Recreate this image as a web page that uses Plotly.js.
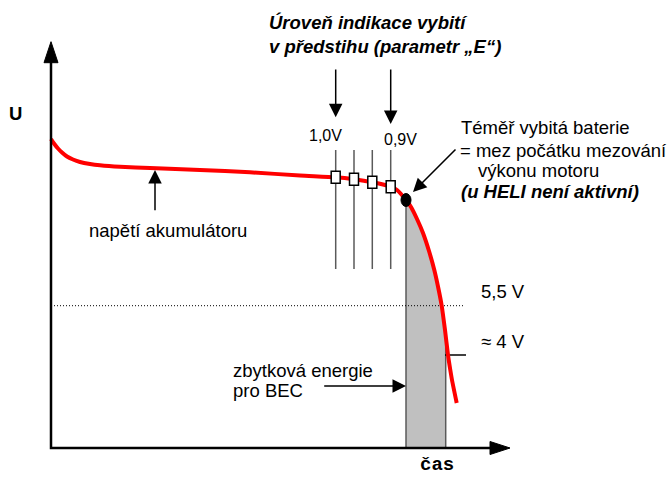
<!DOCTYPE html>
<html>
<head>
<meta charset="utf-8">
<script src="https://cdn.plot.ly/plotly-3.0.1.min.js"></script>
<style>html,body{margin:0;padding:0;background:#fff;}#chart{width:669px;height:477px;}</style>
</head>
<body>
<div id="chart"></div>
<script>
// ---- data (arbitrary schematic units: time to the right, voltage U upward) ----
const timeAxisEnd = 459;
const voltAxisEnd = 406.3;

const curveTime = [0, 3, 7, 11, 16, 22, 29, 39, 49, 69, 99, 149, 199, 249, 284.7, 303, 321.3, 339.7, 346, 355, 360, 366, 372, 378, 383.3, 387.3, 390.7, 394, 397, 399.3, 401, 405.7];
const curveU    = [309, 304.5, 299.5, 295.5, 291.5, 288.5, 286, 284, 282.7, 281.2, 280, 278, 275.7, 272.5, 270.7, 268.7, 265.7, 261.3, 258, 248, 241, 229, 215, 197, 178, 160, 142.3, 118, 93, 78, 68, 45];

// discharge-indication levels (parametr E)
const levelTime = [284.7, 303, 321.3, 339.7];
const levelU    = [270.7, 268.7, 265.7, 261.3];
const levelLineU = [179, 298];
const levelLabels = ["1,0V", "0,9V"];

// nearly discharged battery point and BEC reserve
const cutoffTime = 355, cutoffU = 248;
const becEndTime = 394.7;
const thresholdU55 = 142.3;   // 5,5 V
const thresholdU4 = 93;       // ≈ 4 V

// ---- helpers ----
function interpU(t) {
  for (let i = 0; i < curveTime.length - 1; i++) {
    if (t >= curveTime[i] && t <= curveTime[i + 1]) {
      const f = (t - curveTime[i]) / (curveTime[i + 1] - curveTime[i]);
      return curveU[i] + f * (curveU[i + 1] - curveU[i]);
    }
  }
  return curveU[curveU.length - 1];
}

// grey area polygon built from the curve
const becEndU = interpU(becEndTime);
const fillX = [cutoffTime, cutoffTime], fillY = [0, cutoffU];
curveTime.forEach((t, i) => { if (t > cutoffTime && t < becEndTime) { fillX.push(t); fillY.push(curveU[i]); } });
fillX.push(becEndTime, becEndTime); fillY.push(becEndU, 0);

const FONT = "Liberation Sans, Arial, sans-serif";
const grey = "#5a5a5a";

const traces = [
  { x: fillX, y: fillY, mode: "lines", fill: "toself", fillcolor: "#c0c0c0", line: { width: 0 }, hoverinfo: "skip" },
  { x: [cutoffTime, cutoffTime], y: [0, cutoffU], mode: "lines", line: { color: grey, width: 1.5 } },
  { x: [becEndTime, becEndTime], y: [0, becEndU], mode: "lines", line: { color: grey, width: 1.5 } },
  { x: [0, 414], y: [thresholdU55, thresholdU55], mode: "lines", line: { color: "#000", width: 1, dash: "1px,2px" } },
  { x: [394, 415], y: [thresholdU4, thresholdU4], mode: "lines", line: { color: "#000", width: 1.5 } }
];
levelTime.forEach(t => traces.push({ x: [t, t], y: levelLineU, mode: "lines", line: { color: grey, width: 1.5 } }));
traces.push({ x: curveTime, y: curveU, mode: "lines", line: { color: "#ff0000", width: 4, shape: "spline", smoothing: 0.6 } });
// axes
traces.push({ x: [0, 0, timeAxisEnd - 15], y: [voltAxisEnd - 15, 0, 0], mode: "lines", line: { color: "#000", width: 2.5 } });
traces.push({ x: [-7, 7, 0, -7], y: [voltAxisEnd - 21, voltAxisEnd - 21, voltAxisEnd, voltAxisEnd - 21], mode: "lines", fill: "toself", fillcolor: "#000", line: { color: "#000", width: 1 } });
traces.push({ x: [timeAxisEnd - 20, timeAxisEnd - 20, timeAxisEnd, timeAxisEnd - 20], y: [6.5, -6.5, 0, 6.5], mode: "lines", fill: "toself", fillcolor: "#000", line: { color: "#000", width: 1 } });

const shapes = levelTime.map((t, i) => ({
  type: "rect", xref: "x", yref: "y", xsizemode: "pixel", ysizemode: "pixel",
  xanchor: t, yanchor: levelU[i], x0: -4.5, x1: 4.5, y0: -6, y1: 6,
  fillcolor: "#fff", line: { color: "#000", width: 1.5 }, layer: "above"
}));
shapes.push({
  type: "circle", xref: "x", yref: "y", xsizemode: "pixel", ysizemode: "pixel",
  xanchor: cutoffTime, yanchor: cutoffU, x0: -5, x1: 5, y0: -6.5, y1: 6.5,
  fillcolor: "#000", line: { color: "#000", width: 1 }, layer: "above"
});

function txt(x, y, text, opts) {
  return Object.assign({ x: x, y: y, xref: "x", yref: "y", text: text, showarrow: false,
    xanchor: "left", yanchor: "middle", borderpad: 0,
    font: { family: FONT, size: 18.5, color: "#000" } }, opts || {});
}
function arrow(x, y, ax, ay) {
  return { x: x, y: y, ax: ax, ay: ay, xref: "x", yref: "y", axref: "x", ayref: "y",
    text: "", showarrow: true, arrowhead: 2, arrowsize: 1.8, arrowwidth: 1.5, arrowcolor: "#000", standoff: 0, startstandoff: 0 };
}

const annotations = [
  txt(-36, 335, "<b>U</b>", { xanchor: "center" }),
  txt(217, 426, "<b><i>Úroveň indikace vybití</i></b>"),
  txt(217, 402, "<b><i>v předstihu (parametr „E“)</i></b>"),
  txt(levelTime[0] - 10.2, 313, levelLabels[0], { xanchor: "center", font: { family: FONT, size: 16, color: "#000" } }),
  txt(levelTime[3] + 9.3, 309, levelLabels[1], { xanchor: "center", font: { family: FONT, size: 16, color: "#000" } }),
  txt(408.5, 321, "Téměř vybitá baterie"),
  txt(408, 298, "= mez počátku mezování"),
  txt(426, 278, "výkonu motoru"),
  txt(409, 257, "<b><i>(u HELI není aktivní)</i></b>"),
  txt(37.3, 217.5, "napětí akumulátoru"),
  txt(429, 157, "5,5 V"),
  txt(429, 107, "≈ 4 V"),
  txt(180.7, 78, "zbytková energie"),
  txt(180.7, 58, "pro BEC"),
  txt(386, -17, "<b>čas</b>", { xanchor: "center", font: { family: "Liberation Mono, Courier New, monospace", size: 19, color: "#000" } }),
  arrow(levelTime[0], 330.7, levelTime[0], 380),
  arrow(levelTime[3], 324, levelTime[3], 380),
  arrow(104, 278, 104, 236.3),
  arrow(cutoffTime, 62, 271.7, 62),
  arrow(362, 256, 406, 300)
];

const layout = {
  width: 669, height: 477,
  margin: { l: 0, r: 0, t: 0, b: 0 },
  paper_bgcolor: "#fff", plot_bgcolor: "#fff",
  showlegend: false,
  xaxis: { range: [-51, 618], visible: false, fixedrange: true },
  yaxis: { range: [-29, 448], visible: false, fixedrange: true },
  shapes: shapes,
  annotations: annotations
};

Plotly.newPlot("chart", traces, layout, { staticPlot: true, displayModeBar: false });
</script>
</body>
</html>
